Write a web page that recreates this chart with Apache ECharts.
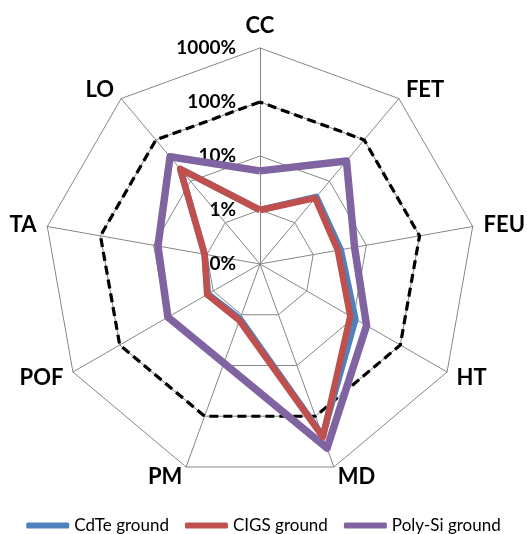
<!DOCTYPE html>
<html>
<head>
<meta charset="utf-8">
<script src="https://cdn.jsdelivr.net/npm/echarts@6/dist/echarts.min.js"></script>
<style>
  html, body { margin: 0; padding: 0; background: #fff; }
  #main { width: 527px; height: 534px; }
</style>
</head>
<body>
<div id="main"></div>
<script>
// axes, clockwise from the top (as in the picture)
var categories = ['CC', 'FET', 'FEU', 'HT', 'MD', 'PM', 'POF', 'TA', 'LO'];
// values in percent, log scale 0.1% .. 1000%
var cdteGround = [1.0, 4.2, 3.3, 11, 245, 1.2, 1.3, 1.1, 20];
var cigsGround = [1.0, 3.9, 2.9, 8.5, 257, 1.3, 1.35, 1.1, 20];
var polySiGround = [5.3, 31, 6.0, 19, 427, 9.0, 9.3, 8.3, 39];
var reference = [100, 100, 100, 100, 100, 100, 100, 100, 100];
var tickLabels = ['0%', '1%', '10%', '100%', '1000%'];

// echarts goes counter-clockwise, so flip the order after the first axis
var order = [0, 8, 7, 6, 5, 4, 3, 2, 1];
function toLog(arr) {
    return order.map(function (i) { return Math.log10(arr[i]); });
}

var myChart = echarts.init(document.getElementById('main'));

var indicator = order.map(function (i, k) {
    var ind = { name: categories[i], min: -1, max: 3 };
    if (k === 0) {
        ind.axisLabel = {
            show: true,
            fontFamily: 'Lato',
            fontWeight: 'bold',
            fontSize: 19,
            color: '#000',
            margin: 24,
            formatter: function (v) { return tickLabels[Math.round(v) + 1]; }
        };
    }
    return ind;
});

myChart.setOption({
    animation: false,
    legend: {
        data: ['CdTe ground', 'CIGS ground', 'Poly-Si ground'],
        top: 512,
        left: 'center',
        icon: 'roundRect',
        itemWidth: 43,
        itemHeight: 6,
        itemGap: 16,
        textStyle: { fontFamily: 'Lato', fontSize: 17, color: '#000' }
    },
    radar: {
        center: [260, 264],
        radius: 216,
        startAngle: 90,
        splitNumber: 4,
        shape: 'polygon',
        nameGap: 11,
        axisName: { color: '#000', fontFamily: 'Lato', fontWeight: 'bold', fontSize: 22 },
        axisLine: { lineStyle: { color: '#868686', width: 1 } },
        splitLine: { lineStyle: { color: '#868686', width: 1 } },
        splitArea: { show: false },
        axisLabel: { show: false },
        indicator: indicator
    },
    series: [{
        type: 'radar',
        symbol: 'none',
        silent: true,
        data: [
            {
                name: 'reference',
                value: toLog(reference),
                lineStyle: { color: '#000', width: 3.2, type: [9, 5] }
            },
            {
                name: 'Poly-Si ground',
                value: toLog(polySiGround),
                itemStyle: { color: '#8064A2' },
                lineStyle: { color: '#8064A2', width: 7.5 }
            },
            {
                name: 'CdTe ground',
                value: toLog(cdteGround),
                itemStyle: { color: '#4F81BD' },
                lineStyle: { color: '#4F81BD', width: 6.5 }
            },
            {
                name: 'CIGS ground',
                value: toLog(cigsGround),
                itemStyle: { color: '#C0504D' },
                lineStyle: { color: '#C0504D', width: 6.5 }
            }
        ]
    }]
});
</script>
</body>
</html>
